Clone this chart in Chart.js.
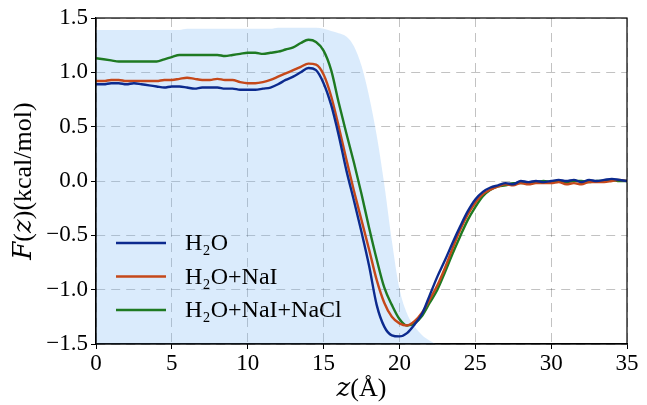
<!DOCTYPE html>
<html>
<head>
<meta charset="utf-8">
<script src="https://cdn.jsdelivr.net/npm/chart.js@4"></script>
<style>
  html, body { margin: 0; padding: 0; background: #fff; }
  #wrap { width: 647px; height: 405px; }
</style>
</head>
<body>
<div id="wrap"><canvas id="profileChart" width="647" height="405"></canvas></div>
<script>
// colours
const _BLUE = '#0c2a8e';
const _ORANGE = '#c5481a';
const _GREEN = '#1e7a22';
const _SHADE = 'rgba(120, 180, 245, 0.27)';
const _FONT = '"Liberation Serif", "DejaVu Serif", serif';

// z positions (Angstrom)
const zValues = [
  0, 0.5, 1, 1.5, 2, 2.5, 3, 3.5, 4, 4.5, 5, 5.5, 6, 6.5, 7, 7.5, 8, 8.5, 9, 9.5,
  10, 10.5, 11, 11.5, 12, 12.5, 13, 13.5, 14, 14.5, 15, 15.5, 16, 16.5, 17, 17.5,
  18, 18.5, 19, 19.5, 20, 20.5, 21, 21.5, 22, 22.5, 23, 23.5, 24, 24.5, 25, 25.5,
  26, 26.5, 27, 27.5, 28, 28.5, 29, 29.5, 30, 30.5, 31, 31.5, 32, 32.5, 33, 33.5,
  34, 34.5, 35
];

// F(z) in kcal/mol
const h2o = [
  0.89, 0.89, 0.90, 0.90, 0.89, 0.90, 0.89, 0.88, 0.87, 0.86, 0.87, 0.87, 0.86, 0.85, 0.86, 0.86, 0.86, 0.85, 0.85, 0.84,
  0.84, 0.84, 0.85, 0.86, 0.89, 0.93, 0.96, 1.00, 1.04, 1.02, 0.90, 0.70, 0.42, 0.10, -0.18, -0.47,
  -0.78, -1.14, -1.34, -1.42, -1.43, -1.40, -1.32, -1.22, -1.05, -0.88, -0.73, -0.57, -0.42, -0.28, -0.17, -0.10,
  -0.06, -0.04, -0.02, -0.03, 0.00, -0.01, 0.00, -0.01, 0.00, 0.01, 0.00, 0.01, -0.01, 0.01, 0.00, 0.01,
  0.02, 0.01, 0.00
];
const h2oNaI = [
  0.92, 0.92, 0.93, 0.93, 0.92, 0.92, 0.92, 0.92, 0.92, 0.93, 0.93, 0.94, 0.95, 0.94, 0.93, 0.93, 0.94, 0.93, 0.93, 0.91,
  0.90, 0.90, 0.91, 0.93, 0.96, 0.99, 1.02, 1.05, 1.08, 1.07, 0.98, 0.78, 0.50, 0.20, -0.09, -0.36,
  -0.63, -0.91, -1.12, -1.25, -1.31, -1.33, -1.29, -1.21, -1.09, -0.96, -0.80, -0.62, -0.45, -0.31, -0.20, -0.12,
  -0.08, -0.05, -0.03, -0.04, -0.02, -0.03, -0.02, -0.02, -0.02, -0.01, -0.03, -0.02, -0.03, -0.01, -0.01, -0.01,
  0.00, 0.01, 0.00
];
const h2oNaINaCl = [
  1.13, 1.12, 1.11, 1.10, 1.10, 1.10, 1.10, 1.10, 1.10, 1.12, 1.14, 1.16, 1.16, 1.16, 1.16, 1.16, 1.16, 1.15, 1.16, 1.17,
  1.18, 1.18, 1.17, 1.18, 1.19, 1.21, 1.23, 1.27, 1.30, 1.28, 1.20, 1.02, 0.72, 0.44, 0.17, -0.12,
  -0.43, -0.72, -0.98, -1.14, -1.27, -1.33, -1.31, -1.24, -1.12, -1.00, -0.84, -0.67, -0.51, -0.36, -0.24, -0.14,
  -0.08, -0.05, -0.04, -0.02, -0.02, -0.01, -0.01, 0.00, -0.01, 0.00, -0.01, 0.00, 0.00, -0.01, 0.00, 0.00,
  0.01, 0.00, 0.00
];
// scaled density profile drawn as the shaded background
const density = [
  1.39, 1.39, 1.39, 1.39, 1.39, 1.39, 1.39, 1.39, 1.39, 1.39, 1.39, 1.39, 1.40, 1.40, 1.40, 1.40, 1.40, 1.40, 1.40, 1.40,
  1.40, 1.40, 1.40, 1.40, 1.41, 1.41, 1.41, 1.41, 1.41, 1.41, 1.40, 1.38, 1.36, 1.33, 1.24, 1.06,
  0.78, 0.42, -0.03, -0.55, -0.99, -1.22, -1.34, -1.42, -1.47, -1.50, -1.50, -1.50, -1.50, -1.50, -1.50, -1.50,
  -1.50, -1.50, -1.50, -1.50, -1.50, -1.50, -1.50, -1.50, -1.50, -1.50, -1.50, -1.50, -1.50, -1.50, -1.50, -1.50,
  -1.50, -1.50, -1.50
];

const seriesLabels = ['H\u2082O', 'H\u2082O+NaI', 'H\u2082O+NaI+NaCl'];
const xTicks = [0, 5, 10, 15, 20, 25, 30, 35];
const yTicks = [-1.5, -1.0, -0.5, 0.0, 0.5, 1.0, 1.5];

function toPoints(values) {
  return zValues.map((z, i) => ({ x: z, y: values[i] }));
}

function curve(label, values, color) {
  return {
    label: label,
    data: toPoints(values),
    borderColor: color,
    backgroundColor: color,
    borderWidth: 2.4,
    pointRadius: 0,
    cubicInterpolationMode: 'monotone',
    fill: false,
    order: 1
  };
}

// frame on all four sides + legend inside the plot
const framePlugin = {
  id: 'frame',
  afterDraw(chart) {
    const { ctx, chartArea } = chart;
    ctx.save();
    ctx.strokeStyle = '#000';
    ctx.lineWidth = 1.2;
    ctx.strokeRect(chartArea.left, chartArea.top, chartArea.right - chartArea.left, chartArea.bottom - chartArea.top);

    // legend
    const colors = [_BLUE, _ORANGE, _GREEN];
    ctx.font = '24px ' + _FONT;
    ctx.textBaseline = 'middle';
    ctx.fillStyle = '#000';
    for (let i = 0; i < seriesLabels.length; i++) {
      const y = chartArea.top + 225 + i * 33.5;
      ctx.strokeStyle = colors[i];
      ctx.lineWidth = 2.4;
      ctx.beginPath();
      ctx.moveTo(chartArea.left + 20, y);
      ctx.lineTo(chartArea.left + 70, y);
      ctx.stroke();
      ctx.fillText(seriesLabels[i], chartArea.left + 89, y + 1);
    }
    ctx.restore();
  }
};

const ctx = document.getElementById('profileChart').getContext('2d');
const profileChart = new Chart(ctx, {
  type: 'line',
  data: {
    datasets: [
      curve(seriesLabels[0], h2o, _BLUE),
      curve(seriesLabels[1], h2oNaI, _ORANGE),
      curve(seriesLabels[2], h2oNaINaCl, _GREEN),
      {
        label: 'density',
        data: toPoints(density),
        borderWidth: 0,
        borderColor: 'rgba(0,0,0,0)',
        backgroundColor: _SHADE,
        pointRadius: 0,
        cubicInterpolationMode: 'monotone',
        fill: 'start',
        order: 10
      }
    ]
  },
  options: {
    responsive: false,
    animation: false,
    layout: {
      padding: { top: 18, right: 20, left: 0, bottom: 0 }
    },
    plugins: {
      legend: { display: false },
      tooltip: { enabled: false }
    },
    scales: {
      x: {
        type: 'linear',
        min: 0,
        max: 35,
        afterBuildTicks: (scale) => { scale.ticks = xTicks.map(v => ({ value: v })); },
        afterFit: (scale) => { scale.height = 61; },
        ticks: {
          color: '#000',
          font: { family: _FONT, size: 23 },
          padding: 1,
          maxRotation: 0
        },
        grid: {
          color: 'rgba(0,0,0,0.24)',
          lineWidth: 1,
          tickColor: '#000',
          tickLength: 5,
          tickBorderDash: []
        },
        border: { display: true, color: '#000', width: 1.2, dash: [9, 6] },
        title: {
          display: true,
          text: '\uD835\uDC67(\u00C5)',
          color: '#000',
          font: { family: _FONT, size: 26 },
          padding: { top: -3, bottom: 0 }
        }
      },
      y: {
        type: 'linear',
        min: -1.5,
        max: 1.5,
        afterBuildTicks: (scale) => { scale.ticks = yTicks.map(v => ({ value: v })); },
        afterFit: (scale) => { scale.width = 96; },
        ticks: {
          color: '#000',
          font: { family: _FONT, size: 23 },
          padding: 3,
          callback: (v) => (v < 0 ? '\u2212' : '') + Math.abs(v).toFixed(1)
        },
        grid: {
          color: 'rgba(0,0,0,0.24)',
          lineWidth: 1,
          tickColor: '#000',
          tickLength: 5,
          tickBorderDash: []
        },
        border: { display: true, color: '#000', width: 1.2, dash: [9, 6] },
        title: {
          display: true,
          text: '\uD835\uDC39(\uD835\uDC67)(kcal/mol)',
          color: '#000',
          font: { family: _FONT, size: 26 },
          padding: { top: 9, bottom: 0 }
        }
      }
    }
  },
  plugins: [framePlugin]
});
</script>
</body>
</html>
